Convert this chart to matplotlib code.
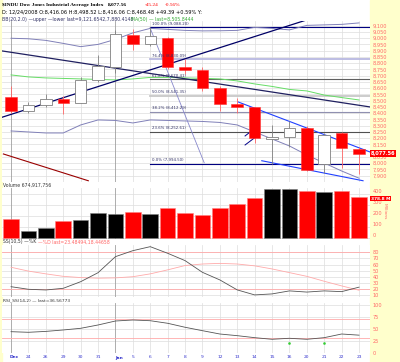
import matplotlib
matplotlib.use("Agg")
import matplotlib.pyplot as plt
import numpy as np

# trading days shown (Dec 23 2008 .. Jan 23 2009)
day_labels = ["Dec", "24", "26", "29", "30", "31", "Jan", "5", "6", "7", "8", "9",
              "12", "13", "14", "15", "16", "20", "21", "22", "23"]

opens  = [8530, 8420, 8468, 8515, 8484, 8668, 8772, 9027, 8954, 9004, 8770,
          8742, 8599, 8474, 8446, 8197, 8212, 8279, 7995, 8240, 8116]
highs  = [8620, 8490, 8554, 8540, 8690, 8866, 9065, 9070, 9088, 9010, 8830,
          8770, 8620, 8520, 8450, 8306, 8340, 8300, 8240, 8250, 8130]
lows   = [8400, 8405, 8450, 8390, 8480, 8650, 8720, 8906, 8940, 8750, 8710,
          8580, 8420, 8400, 8160, 7995, 8130, 7940, 7920, 7960, 7910]
closes = [8419, 8468, 8515, 8484, 8668, 8776, 9034.7, 8952.9, 9015, 8770, 8742,
          8599, 8474, 8448, 8200, 8212, 8281, 7949, 8228, 8123, 8077.56]

volume = [175, 69, 91, 160, 169, 233, 221, 242, 221, 273, 230, 209, 278, 312,
          364, 445, 445, 427, 418, 427, 378.8]   # millions

bb_upper = [8999, 8995, 8982, 8958, 8932, 8950, 8990, 9042, 9078, 9070, 9062,
            9058, 9059, 9062, 9086, 9078, 9066, 9102, 9106, 9110, 9121.65]
bb_lower = [8258, 8250, 8242, 8242, 8306, 8346, 8342, 8322, 8346, 8342, 8338,
            8334, 8326, 8306, 8250, 8194, 8138, 8066, 8002, 7938, 7880.41]
ma50 = [8706, 8690, 8682, 8678, 8674, 8670, 8666, 8674, 8686, 8686, 8682,
        8679, 8674, 8658, 8634, 8614, 8590, 8578, 8545, 8525, 8505.84]

stoch_k = [24.2, 20, 18.9, 21.6, 32.3, 46.9, 72.9, 82.6, 89.1, 78.4, 66.5,
           47.5, 35.2, 19, 10.9, 12.5, 17.4, 15.5, 17.4, 16.2, 23.48]
stoch_d = [55.7, 49.5, 45, 41, 39, 38, 38.5, 40.4, 45, 51.5, 58.5,
           61, 62, 61, 58, 53, 47, 41, 33, 25.5, 18.45]
rsi = [43.9, 42.6, 44.5, 47.5, 51, 58, 66.4, 68.5, 67, 61.6, 53.2,
       46, 39, 35.5, 31.3, 27.9, 30, 27.9, 31.3, 39, 36.57]

fib_high = 9088.20
fib_low = 7994.50
fib_pcts = [100.0, 76.4, 61.8, 50.0, 38.2, 23.6, 0.0]
fib_colors = ["#000080", "#B8B8E0", "#606060", "#C8C8C8", "#9090B0", "#505050", "#000080"]

W, H = 400, 362
BG = "#FFFFCC"
GRID = "#DDDDDD"
LBL = "#FF6666"


def rect(x0, y0, x1, y1):
    return [x0 / W, 1 - y1 / H, (x1 - x0) / W, (y1 - y0) / H]


fig = plt.figure(figsize=(4.0, 3.62), dpi=100)
fig.patch.set_facecolor("white")
# yellow strip for the right axis and left edge
fig.add_artist(plt.Rectangle((370 / W, 0), 30 / W, 1, transform=fig.transFigure,
                             color=BG, zorder=0))
fig.add_artist(plt.Rectangle((0, 0), 2 / W, 1, transform=fig.transFigure,
                             color=BG, zorder=0))

x = np.arange(len(day_labels))
xlim = (-0.52, 20.63)
month_idx = [0, 6]


def style(ax, yticks, ylim, ylabels=None):
    ax.set_xlim(*xlim)
    ax.set_ylim(*ylim)
    ax.set_facecolor("white")
    for s in ax.spines.values():
        s.set_visible(False)
    ax.yaxis.tick_right()
    ax.set_yticks(yticks)
    if ylabels is not None:
        ax.set_yticklabels(ylabels)
    ax.tick_params(axis="y", length=0, pad=2, labelsize=3.6, labelcolor=LBL)
    ax.tick_params(axis="x", length=0, labelbottom=False)
    ax.set_xticks(x)
    for yt in yticks:
        ax.axhline(yt, color=GRID, lw=0.5, zorder=0)
    for xi in x:
        ax.axvline(xi, color="#A0A0A0" if xi in month_idx else GRID,
                   lw=0.6 if xi in month_idx else 0.5, zorder=0)


# ---------------- price panel ----------------
ax = fig.add_axes(rect(2, 21, 370, 182))
pt = np.arange(7900, 9101, 50)
style(ax, pt, (7850, 9137), [f"{v:,}" for v in pt])

for lab in ax.get_yticklabels():
    if lab.get_text() == "8,100":
        lab.set_visible(False)

fx0 = 7.99
for pct, col in zip(fib_pcts, fib_colors):
    lvl = fib_low + (fib_high - fib_low) * pct / 100
    lw = 1.3 if col in ("#B8B8E0", "#C8C8C8") else 0.8
    ax.plot([fx0, xlim[1]], [lvl, lvl], color=col, lw=lw, zorder=1)
    ax.text(fx0 + 0.1, lvl + 12, f"{pct:.1f}% ({lvl:,.2f})", fontsize=2.8,
            color="#333366", va="bottom", zorder=6)

ax.plot(x, bb_upper, color="#8080B8", lw=0.7, zorder=2)
ax.plot(x, bb_lower, color="#8080B8", lw=0.7, zorder=2)
ax.plot(x, ma50, color="#66DD66", lw=0.7, zorder=2)

# trendlines
ax.plot([-0.53, 17.0], [8367, 9146], color="#000066", lw=0.9, zorder=3)
ax.plot([-0.53, 20.63], [8898, 8450], color="#202060", lw=0.9, zorder=3)
ax.plot([7.99, 11.1], [9082, 8004], color="#8888CC", lw=0.6, zorder=3)
ax.plot([13.05, 20.63], [8490, 8090], color="#2040FF", lw=0.8, zorder=3)
ax.plot([14.41, 20.23], [8020, 7860], color="#2040FF", lw=0.8, zorder=3)
ax.plot([13.45, 14.08], [8218, 8287], color="#000088", lw=0.7, zorder=3)
ax.plot([13.45, 14.08], [8146, 8212], color="#000088", lw=0.7, zorder=3)
ax.plot([-0.44, 4.44], [8074, 7860], color="#990000", lw=0.8, zorder=3)

for i in range(len(x)):
    o, h, l, c = opens[i], highs[i], lows[i], closes[i]
    down = c < o
    wick = "#FF6666" if down else "#808080"
    ax.vlines(i, l, h, color=wick, lw=0.6, zorder=4)
    if down:
        ax.bar(i, o - c, bottom=c, width=0.66, color="#FF0000",
               edgecolor="#FF3333", lw=0.4, zorder=5)
    else:
        ax.bar(i, c - o, bottom=o, width=0.66, color="white",
               edgecolor="#808080", lw=0.6, zorder=5)

# last value box
ax.text(1.0 + 1 / 368, closes[-1], f"{closes[-1]:,.2f}", transform=ax.get_yaxis_transform(),
        fontsize=3.6, color="white", fontweight="bold", va="center", ha="left",
        bbox=dict(boxstyle="square,pad=0.15", fc="#FF0000", ec="none"), zorder=10,
        clip_on=False)

# header text
fig.text(2 / W, 1 - 5 / H, "$INDU Dow Jones Industrial Average Index", fontsize=3.9,
         fontweight="bold", family="Liberation Serif", va="center")
fig.text(108 / W, 1 - 5 / H, "8,077.56", fontsize=3.9, fontweight="bold",
         family="Liberation Serif", va="center")
fig.text(145 / W, 1 - 5 / H, "-45.24", fontsize=3.9, color="#FF0000",
         family="Liberation Serif", va="center")
fig.text(165 / W, 1 - 5 / H, "-0.56%", fontsize=3.9, color="#FF0000",
         family="Liberation Serif", va="center")
fig.text(2 / W, 1 - 12 / H,
         "D: 12/24/2008 O:8,416.06 H:8,498.52 L:8,416.06 C:8,468.48 +49.39 +0.59% Y:",
         fontsize=3.6, va="center")
fig.text(2 / W, 1 - 19 / H, "BB(20,2.0) \u2014upper \u2014lower last=9,121.6542,7,880.4148",
         fontsize=3.3, va="center", color="#333366")
fig.text(131 / W, 1 - 19 / H, "MA(50) \u2014 last=8,505.8444", fontsize=3.3,
         va="center", color="#33AA33")

# ---------------- volume panel ----------------
axv = fig.add_axes(rect(2, 188, 370, 239))
style(axv, [0, 100, 200, 300, 400], (-6, 457))
vlabs = axv.get_yticklabels()
for lab in vlabs:
    lab.set_verticalalignment("bottom")
vcol = ["#FF0000"] + ["#FF0000" if closes[i] < closes[i - 1] else "#000000"
                      for i in range(1, len(x))]
axv.bar(x, volume, width=0.9, color=vcol, edgecolor=["#FF8080" if c == "#FF0000" else "#808080"
                                                      for c in vcol], lw=0.4, zorder=3)
axv.text(1.0 + 1 / 368, volume[-1], f"{volume[-1]:.1f} M", transform=axv.get_yaxis_transform(),
         fontsize=3.2, color="white", fontweight="bold", va="top", ha="left",
         bbox=dict(boxstyle="square,pad=0.12", fc="#FF0000", ec="none"), zorder=10,
         clip_on=False)
axv.text(1.04, 0.55, "Millions", transform=axv.transAxes, rotation=-90, fontsize=3.2,
         color=LBL, va="center", ha="center")
fig.text(3 / W, 1 - 185 / H, "Volume 674,917,756", fontsize=3.3, va="center", color="#333333")

# ---------------- stochastics panel ----------------
axs = fig.add_axes(rect(2, 245, 370, 297))
style(axs, [10, 20, 30, 40, 50, 60, 70, 80], (7.5, 91.8))
axs.axhline(80, color="#FFAAAA", lw=0.6, zorder=1)
axs.axhline(20, color="#FFAAAA", lw=0.6, zorder=1)
axs.plot(x, stoch_d, color="#FFAAAA", lw=0.6, zorder=2)
axs.plot(x, stoch_k, color="#555555", lw=0.6, zorder=3)
fig.text(3 / W, 1 - 242 / H, "SS(10,5) \u2014%K", fontsize=3.3, va="center", color="#333333")
fig.text(38 / W, 1 - 242 / H, "\u2014%D last=23.48494,18.44658", fontsize=3.3,
         va="center", color="#FF6666")

# ---------------- RSI panel ----------------
axr = fig.add_axes(rect(2, 303, 370, 353))
style(axr, [0, 25, 50, 75, 100], (-1, 104.3))
axr.axhline(70, color="#FFAAAA", lw=0.6, zorder=1)
axr.axhline(30, color="#FFAAAA", lw=0.6, zorder=1)
axr.plot(x, rsi, color="#555555", lw=0.6, zorder=3)
axr.plot([16, 18], [21, 21], ls="none", marker="s", ms=0.8, color="#33CC33", zorder=4)
fig.text(3 / W, 1 - 300 / H, "RSI_SS(14,2) \u2014 last=36.56773", fontsize=3.2,
         va="center", color="#333333")

# x labels
for i, lab in enumerate(day_labels):
    bold = i in month_idx
    axr.text(i + (0.2 if bold else 0), -0.09, lab, transform=axr.get_xaxis_transform(),
             fontsize=3.2, color="#3333CC", ha="center", va="center",
             fontweight="bold" if bold else "normal", clip_on=False)

fig.savefig("out.png", dpi=100, facecolor=fig.get_facecolor())
